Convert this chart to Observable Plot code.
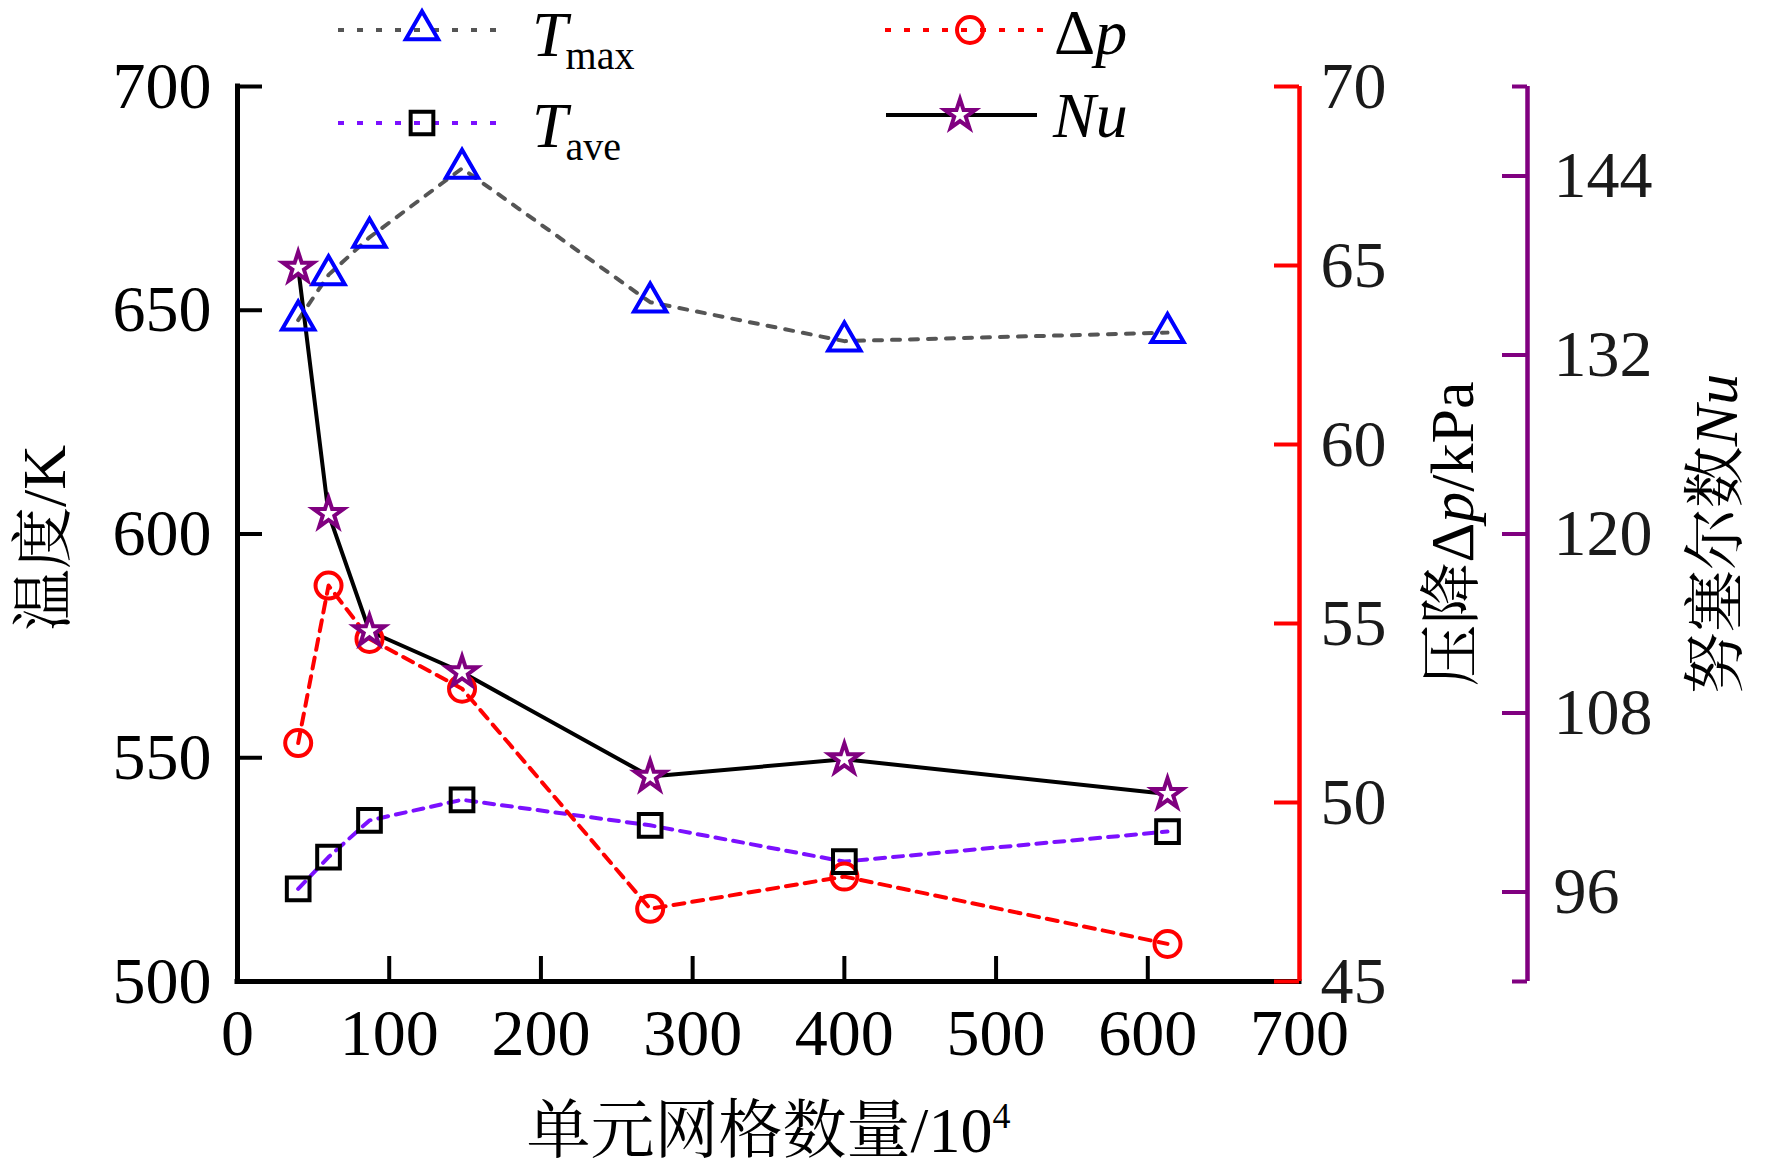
<!DOCTYPE html>
<html><head><meta charset="utf-8">
<script src="https://cdn.jsdelivr.net/npm/d3@7"></script>
<script src="https://cdn.jsdelivr.net/npm/@observablehq/plot@0.6"></script>
<style>
body{margin:0;background:#fff;}
</style></head><body><div id="chart"></div>
<script>
// ---- data ----
const cells = [40, 60, 87, 148, 272, 400, 613];          // 单元网格数量 /10^4
const tMax  = [647.8, 657.9, 666.3, 681.7, 651.8, 643.1, 645.0]; // K
const tAve  = [520.7, 527.8, 536.0, 540.6, 534.9, 526.8, 533.5]; // K
const dP    = [51.66, 56.06, 54.57, 53.18, 47.03, 47.93, 46.05]; // kPa
const nu    = [137.85, 121.35, 113.48, 110.73, 103.74, 104.9, 102.57];

const xTicks  = [0, 100, 200, 300, 400, 500, 600, 700];
const tTicks  = [500, 550, 600, 650, 700];
const pTicks  = [45, 50, 55, 60, 65, 70];
const nuTicks = [96, 108, 120, 132, 144];
const nuEnds  = [90, 150];

const xDomain = [0, 700];
const tDomain = [500, 700];
const pDomain = [45, 70];
const nuDomain = [90, 150];

// secondary axes mapped onto the temperature scale
const lin = (dom) => v => tDomain[0] + (v - dom[0]) * (tDomain[1] - tDomain[0]) / (dom[1] - dom[0]);
const pToT = lin(pDomain);
const nuToT = lin(nuDomain);

const rows = cells.map((c, i) => ({cells: c, tMax: tMax[i], tAve: tAve[i], dP: pToT(dP[i]), nu: nuToT(nu[i])}));

// ---- layout ----
const W = 1772, H = 1176;
const mL = 237, mR = 473, mT = 86, mB = 195;
const fw = W - mL - mR, fh = H - mT - mB;
const tickLen = 25, endLen = 15, nuOffset = 228;
const FS = 66;
const FONT = '"Liberation Serif","Times New Roman","Noto Serif CJK SC","Noto Sans CJK SC",serif';
const RED = "#ff0000", BLUE = "#0000ff", PURPLE = "#800080", GRAY = "#555555", VIOLET = "#7b10ff";

const plot = Plot.plot({
  width: W, height: H,
  marginLeft: mL, marginRight: mR, marginTop: mT, marginBottom: mB,
  x: {domain: xDomain, axis: null},
  y: {domain: tDomain, axis: null},
  style: {background: "white", overflow: "visible", fontFamily: FONT},
  marks: [
    // data lines
    Plot.line(rows, {x: "cells", y: "tMax", stroke: GRAY, strokeWidth: 4, strokeDasharray: "8,10"}),
    Plot.line(rows, {x: "cells", y: "tAve", stroke: VIOLET, strokeWidth: 4, strokeDasharray: "10,8"}),
    Plot.line(rows, {x: "cells", y: "dP", stroke: RED, strokeWidth: 4, strokeDasharray: "11,8"}),
    Plot.line(rows, {x: "cells", y: "nu", stroke: "black", strokeWidth: 4}),
    // markers
    Plot.dot(rows, {x: "cells", y: "dP", symbol: "circle", r: 13, stroke: RED, strokeWidth: 4, fill: "none"}),
    Plot.dot(rows, {x: "cells", y: "tAve", symbol: "square", r: 12.8, stroke: "black", strokeWidth: 4, fill: "none"}),
    Plot.dot(rows, {x: "cells", y: "tMax", symbol: "triangle", r: 12, stroke: BLUE, strokeWidth: 4, fill: "none"}),
    Plot.dot(rows, {x: "cells", y: "nu", symbol: "star", r: 9.5, stroke: PURPLE, strokeWidth: 4, fill: "white"}),
    // left & bottom axis lines
    Plot.ruleX([xDomain[0]], {stroke: "black", strokeWidth: 5, strokeLinecap: "square"}),
    Plot.ruleY([tDomain[0]], {stroke: "black", strokeWidth: 5, strokeLinecap: "square"}),
    // x ticks (inward)
    Plot.tickX(xTicks.slice(1, -1), {x: d => d, insetTop: fh - tickLen, stroke: "black", strokeWidth: 4}),
    // left ticks (inward)
    Plot.tickY(tTicks, {y: d => d, insetRight: fw - tickLen, stroke: "black", strokeWidth: 4}),
    // red axis
    Plot.ruleX([xDomain[1]], {stroke: RED, strokeWidth: 4.5}),
    Plot.tickY(pTicks.map(pToT), {y: d => d, insetLeft: fw - tickLen, stroke: RED, strokeWidth: 4}),
    // purple axis
    Plot.ruleX([xDomain[1]], {dx: nuOffset, stroke: PURPLE, strokeWidth: 4.5}),
    Plot.tickY(nuTicks.map(nuToT), {y: d => d, dx: nuOffset, insetLeft: fw - tickLen, stroke: PURPLE, strokeWidth: 4}),
    Plot.tickY(nuEnds.map(nuToT), {y: d => d, dx: nuOffset, insetLeft: fw - endLen, stroke: PURPLE, strokeWidth: 4}),
    // tick labels
    Plot.text(xTicks, {x: d => d, text: d => String(d), frameAnchor: "bottom", lineAnchor: "top", textAnchor: "middle", dy: 27, fontSize: FS, fill: "black"}),
    Plot.text(tTicks, {y: d => d, text: d => String(d), frameAnchor: "left", textAnchor: "end", dx: -26, fontSize: FS, fill: "black"}),
    Plot.text(pTicks, {y: d => pToT(d), text: d => String(d), frameAnchor: "right", textAnchor: "start", dx: 21, fontSize: FS, fill: "#1a1a1a"}),
    Plot.text(nuTicks, {y: d => nuToT(d), text: d => String(d), frameAnchor: "right", textAnchor: "start", dx: nuOffset + 26, fontSize: FS, fill: "#1a1a1a"}),
    // axis titles
    Plot.text(["温度/K"], {text: d => d, frameAnchor: "left", textAnchor: "middle", dx: -192, dy: 4, rotate: -90, fontSize: 62, fill: "black"}),
    Plot.text(["压降Δp/kPa"], {text: d => d, frameAnchor: "right", textAnchor: "middle", dx: 154, rotate: -90, fontSize: 62, fill: "black"}),
    Plot.text(["努塞尔数Nu"], {text: d => d, frameAnchor: "right", textAnchor: "middle", dx: 418, rotate: -90, fontSize: 62, fill: "black"}),
    Plot.text(["单元网格数量/10"], {text: d => d, frameAnchor: "bottom", textAnchor: "middle", dy: 170, fontSize: 64, fill: "black"})
  ]
});
document.getElementById("chart").appendChild(plot);

// ---- rich text (italics, superscript) ----
const svg = d3.select(plot);
svg.selectAll("text").each(function() {
  const t = this.textContent;
  const s = d3.select(this);
  if (t === "压降Δp/kPa") {
    s.text(""); s.append("tspan").text("压降Δ"); s.append("tspan").attr("font-style", "italic").text("p"); s.append("tspan").text("/kPa");
  } else if (t === "努塞尔数Nu") {
    s.text(""); s.append("tspan").text("努塞尔数"); s.append("tspan").attr("font-style", "italic").text("Nu");
  } else if (t === "单元网格数量/10") {
    s.text(""); s.append("tspan").text("单元网格数量/10");
    s.append("tspan").attr("font-size", 36).attr("dy", -24).text("4");
  }
});

// ---- legend ----
const leg = svg.append("g").attr("class", "legend").attr("text-anchor", "start").attr("font-family", FONT);
const items = [
  {x1: 338, x2: 496, y: 30, sx: 422, stroke: GRAY, dash: "6,13", sym: d3.symbolTriangle, r: 12, sStroke: BLUE, fill: "none", tx: 532, ty: 56, main: "T", sub: "max"},
  {x1: 338, x2: 496, y: 123, sx: 422, stroke: VIOLET, dash: "6,13", sym: d3.symbolSquare, r: 12.8, sStroke: "black", fill: "none", tx: 532, ty: 147, main: "T", sub: "ave"},
  {x1: 885, x2: 1043, y: 30, sx: 970, stroke: RED, dash: "6,13", sym: d3.symbolCircle, r: 13, sStroke: RED, fill: "none", tx: 1054, ty: 54, main: "Δp"},
  {x1: 886, x2: 1037, y: 115, sx: 960, stroke: "black", dash: null, sym: d3.symbolStar, r: 9.5, sStroke: PURPLE, fill: "white", tx: 1053, ty: 137, main: "Nu"}
];
for (const it of items) {
  leg.append("line").attr("x1", it.x1).attr("x2", it.x2).attr("y1", it.y).attr("y2", it.y)
    .attr("stroke", it.stroke).attr("stroke-width", 4).attr("stroke-dasharray", it.dash);
  leg.append("path").attr("transform", `translate(${it.sx},${it.y})`)
    .attr("d", d3.symbol(it.sym, Math.PI * it.r * it.r)())
    .attr("fill", it.fill).attr("stroke", it.sStroke).attr("stroke-width", 4);
  const tx = leg.append("text").attr("x", it.tx).attr("y", it.ty).attr("font-size", 64).attr("fill", "black");
  if (it.main === "T") {
    tx.append("tspan").attr("font-style", "italic").text("T");
    tx.append("tspan").attr("font-size", 40).attr("dy", 13).attr("dx", -2).text(it.sub);
  } else if (it.main === "Δp") {
    tx.append("tspan").text("Δ");
    tx.append("tspan").attr("font-style", "italic").text("p");
  } else {
    tx.append("tspan").attr("font-style", "italic").text("Nu");
  }
}
</script></body></html>
